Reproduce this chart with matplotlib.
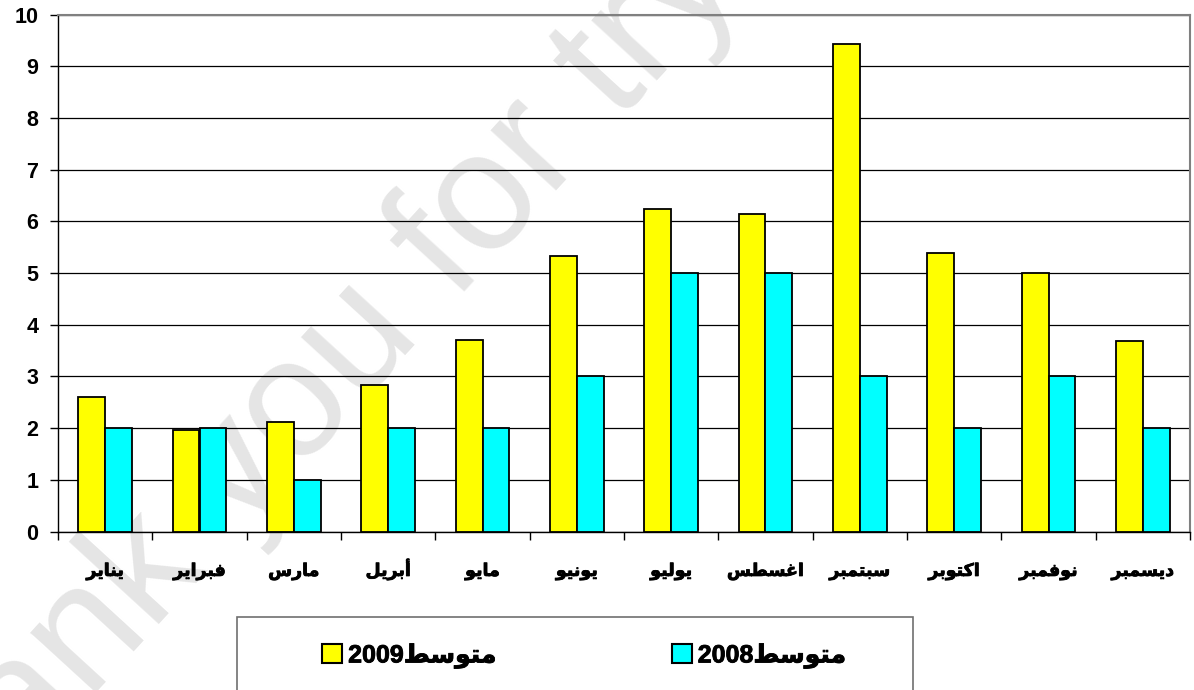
import matplotlib
matplotlib.use("Agg")
import matplotlib.pyplot as plt
import matplotlib.patheffects as pe
import numpy as np
from matplotlib.patches import Patch, Rectangle

# ---- data -------------------------------------------------------------
months = ["يناير", "فبراير", "مارس", "أبريل", "مايو", "يونيو",
          "يوليو", "اغسطس", "سبتمبر", "اكتوبر", "نوفمبر", "ديسمبر"]
avg_2009 = [2.6, 1.97, 2.11, 2.83, 3.7, 5.33, 6.25, 6.14, 9.43, 5.38, 5.0, 3.69]
avg_2008 = [2, 2, 1, 2, 2, 3, 5, 5, 3, 2, 3, 2]
label_2009 = "متوسط2009"
label_2008 = "متوسط2008"
y_ticks = list(range(0, 11))

# ---- minimal Arabic shaping (presentation forms) + RTL ordering --------
FORMS = {
    "ا": (0xFE8D, 0xFE8E), "أ": (0xFE83, 0xFE84),
    "ب": (0xFE8F, 0xFE90, 0xFE91, 0xFE92), "ت": (0xFE95, 0xFE96, 0xFE97, 0xFE98),
    "د": (0xFEA9, 0xFEAA), "ر": (0xFEAD, 0xFEAE),
    "س": (0xFEB1, 0xFEB2, 0xFEB3, 0xFEB4), "ط": (0xFEC1, 0xFEC2, 0xFEC3, 0xFEC4),
    "غ": (0xFECD, 0xFECE, 0xFECF, 0xFED0), "ف": (0xFED1, 0xFED2, 0xFED3, 0xFED4),
    "ك": (0xFED9, 0xFEDA, 0xFEDB, 0xFEDC), "ل": (0xFEDD, 0xFEDE, 0xFEDF, 0xFEE0),
    "م": (0xFEE1, 0xFEE2, 0xFEE3, 0xFEE4), "ن": (0xFEE5, 0xFEE6, 0xFEE7, 0xFEE8),
    "و": (0xFEED, 0xFEEE), "ي": (0xFEF1, 0xFEF2, 0xFEF3, 0xFEF4),
}


def shape(word):
    out = []
    for i, ch in enumerate(word):
        f = FORMS.get(ch)
        if f is None:
            out.append(ch)
            continue
        prev = word[i - 1] if i > 0 else None
        nxt = word[i + 1] if i < len(word) - 1 else None
        jp = prev in FORMS and len(FORMS[prev]) == 4
        jn = len(f) == 4 and nxt in FORMS
        g = f[3] if (jp and jn) else f[1] if jp else f[2] if jn else f[0]
        out.append(chr(g))
    return "".join(out)


def is_arabic(ch):
    return ch in FORMS or "\u0600" <= ch <= "\u06FF"


def visual(text):
    runs = []
    for ch in text:
        a = is_arabic(ch)
        if runs and runs[-1][0] == a:
            runs[-1][1] += ch
        else:
            runs.append([a, ch])
    parts = [shape(s)[::-1] if a else s for a, s in runs]
    return "".join(parts[::-1])


FAM = ["Liberation Sans", "DejaVu Sans"]

# ---- figure -------------------------------------------------------------
fig = plt.figure(figsize=(11.94, 6.90), dpi=100)
fig.patch.set_facecolor("white")

# faint diagonal watermark behind the chart
fig.text(-0.0896, -0.325, "Thank you for trying", rotation=47.5,
         rotation_mode="anchor", ha="left", va="baseline", fontsize=121,
         color="#e5e5e5", family="Liberation Sans", zorder=-5)

ax = fig.add_axes([58 / 1194, 1 - 531.5 / 690, (1190 - 58) / 1194, (531.5 - 14.7) / 690])
ax.patch.set_visible(False)

x = np.arange(len(months))
w = 1 / 3.5
ax.bar(x - w / 2, avg_2009, width=w, color="#FFFF00", edgecolor="black",
       linewidth=1.3, zorder=3)
ax.bar(x + w / 2, avg_2008, width=w, color="#00FFFF", edgecolor="black",
       linewidth=1.3, zorder=3)

ax.set_xlim(-0.5, len(months) - 0.5)
ax.set_ylim(0, 10)
ax.set_yticks(y_ticks)
ax.yaxis.grid(True, color="black", linewidth=0.9, zorder=1)
ax.set_axisbelow(True)

ax.set_xticks(np.arange(-0.5, len(months), 1.0))
ax.set_xticklabels([])
ax.set_xticks(x, [visual(m) for m in months], minor=True)
ax.tick_params(axis="x", which="major", length=6, width=1, color="black", direction="out")
ax.tick_params(axis="x", which="minor", length=0, pad=32)
ax.tick_params(axis="y", length=6, width=1, pad=8)

for lab in ax.get_yticklabels():
    lab.set_family(FAM)
    lab.set_fontweight("bold")
    lab.set_fontsize(15.5)
for lab in ax.get_xticklabels(minor=True):
    lab.set_family(FAM)
    lab.set_fontweight("bold")
    lab.set_fontsize(12.5)
    lab.set_va("baseline")
    lab.set_path_effects([pe.withStroke(linewidth=0.6, foreground="black")])

for side in ("top", "right"):
    ax.spines[side].set_color("#808080")
    ax.spines[side].set_linewidth(1.5)
ax.spines["left"].set_color("black")
ax.spines["bottom"].set_color("black")
ax.spines["left"].set_linewidth(1.0)
ax.spines["bottom"].set_linewidth(1.0)

# legend box (runs past the bottom edge of the canvas)
fig.patches.append(Rectangle((237 / 1194, -0.1), (913 - 237) / 1194, 0.1 + (690 - 617) / 690,
                             transform=fig.transFigure, facecolor="none",
                             edgecolor="#707070", linewidth=1.2, zorder=2))

handles = [Patch(facecolor="#FFFF00", edgecolor="black", linewidth=1.5),
           Patch(facecolor="#00FFFF", edgecolor="black", linewidth=1.5)]
leg = fig.legend(handles, [visual(label_2009), visual(label_2008)],
                 loc="center", bbox_to_anchor=(584 / 1194, (690 - 656) / 690),
                 ncol=2, frameon=False, handlelength=0.8, handleheight=0.8,
                 handletextpad=0.25, columnspacing=7.0,
                 prop={"family": FAM, "weight": "bold", "size": 18})
for t in leg.get_texts():
    t.set_path_effects([pe.withStroke(linewidth=0.6, foreground="black")])

fig.savefig("out.png", dpi=100)
